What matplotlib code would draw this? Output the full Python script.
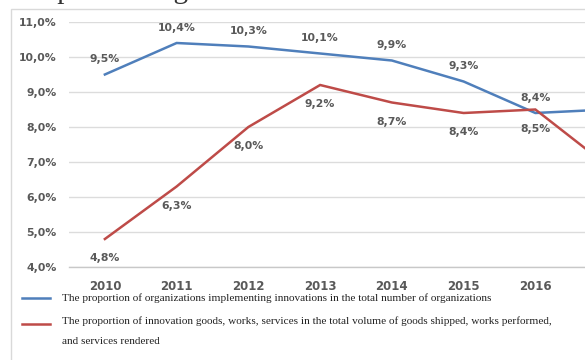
#%%
import numpy as np
import matplotlib.pyplot as plt
from matplotlib.patches import Rectangle
from matplotlib.lines import Line2D

years = ['2010', '2011', '2012', '2013', '2014', '2015', '2016', '2017']
orgs_share = [9.5, 10.4, 10.3, 10.1, 9.9, 9.3, 8.4, 8.5]      # blue
goods_share = [4.8, 6.3, 8.0, 9.2, 8.7, 8.4, 8.5, 6.9]       # red (2017 read from the cut-off edge)
yticks = [4, 5, 6, 7, 8, 9, 10, 11]

label_blue = "The proportion of organizations implementing innovations in the total number of organizations"
label_red = ("The proportion of innovation goods, works, services in the total volume of goods shipped, works performed,\n"
             "and services rendered")

blue = '#4f7fbb'
red = '#be4b48'
grey = '#595959'

W, H = 585, 360
fig = plt.figure(figsize=(W/100, H/100), dpi=100)

# plot area (the source picture is cut off on the right, so the axes run past the edge)
left, right, top, bottom = 69, 643, 22, 267
ax = fig.add_axes([left/W, 1 - bottom/H, (right-left)/W, (bottom-top)/H])

x = np.arange(len(years))
ax.plot(x, orgs_share, color=blue, lw=1.8, solid_joinstyle='miter', zorder=3)
ax.plot(x, goods_share, color=red, lw=1.8, solid_joinstyle='miter', zorder=3)

def pct(v):
    return f"{v:.1f}%".replace('.', ',')

for i in range(len(years) - 1):
    ax.annotate(pct(orgs_share[i]), (x[i], orgs_share[i]), xytext=(0, 11), textcoords='offset points',
                ha='center', va='center', fontsize=7.8, color=grey, fontweight='bold')
    ax.annotate(pct(goods_share[i]), (x[i], goods_share[i]), xytext=(0, -14), textcoords='offset points',
                ha='center', va='center', fontsize=7.8, color=grey, fontweight='bold')

ax.set_xlim(-0.5, len(years) - 0.5)
ax.set_ylim(4, 11)
ax.set_yticks(yticks)
ax.set_yticklabels([pct(v) for v in yticks])
ax.set_xticks(x)
ax.set_xticklabels(years)
ax.grid(axis='y', color='#dcdcdc', lw=1.0)
ax.set_axisbelow(True)
for s in ['top', 'right', 'left']:
    ax.spines[s].set_visible(False)
ax.spines['bottom'].set_color('#c8c8c8')
ax.spines['bottom'].set_linewidth(1.0)
ax.tick_params(axis='both', length=0, colors=grey, labelsize=7.8)
ax.tick_params(axis='y', pad=9)
ax.tick_params(axis='x', pad=9, labelsize=8.5)
for t in ax.get_xticklabels() + ax.get_yticklabels():
    t.set_fontweight('bold')

# outer chart frame
fig.patches.append(Rectangle((11/W, -0.1), 1.2, 1 - 9/H + 0.1, transform=fig.transFigure,
                             fill=False, edgecolor='#d9d9d9', lw=1.0))

# legend drawn below the plot
for yy, col, txt in [(298, blue, label_blue), (324, red, label_red)]:
    fig.lines.append(Line2D([22/W, 50/W], [1 - yy/H, 1 - yy/H], transform=fig.transFigure,
                            color=col, lw=1.8))
    fig.text(62/W, 1 - yy/H, txt, ha='left', va='top' if '\n' in txt else 'center',
             fontsize=8.1, family='Liberation Serif', color='#222222', linespacing=2.6,
             transform=fig.transFigure)
# nudge the two-line label so its first line centres on the red sample
fig.texts[-1].set_y(1 - 316/H)

# cut-off caption above the chart, only the descenders show
fig.text(25/W, 1 + 2/H, "Implementing innovations", ha='left', va='baseline',
         fontsize=21, family='Liberation Serif', color='#333333')

fig.savefig("out.png", dpi=100)
